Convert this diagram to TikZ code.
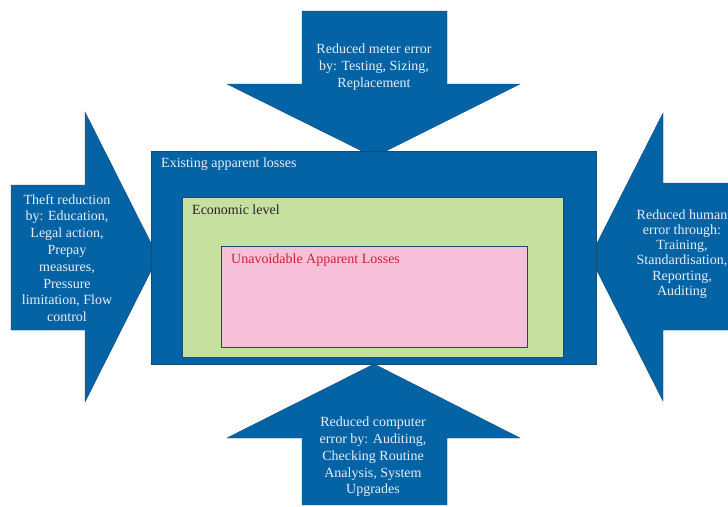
\documentclass[tikz,border=0pt]{standalone}
\usepackage{fontspec}
\setmainfont{Liberation Serif}
\usepackage{tikz}
\usetikzlibrary{calc}
\usetikzlibrary{positioning}

\definecolor{lossblue}{RGB}{4,99,164}
\definecolor{lossedge}{RGB}{20,75,120}
\definecolor{ecogreen}{RGB}{198,224,160}
\definecolor{unavpink}{RGB}{246,192,216}
\definecolor{unavred}{RGB}{215,30,50}
\definecolor{paletext}{RGB}{232,238,246}

\tikzset{
	bigarrow/.style={fill=lossblue, draw=lossedge, line width=0.4pt},
	levelbox/.style={draw=lossedge, line width=0.8pt},
	armtext/.style={text=paletext, align=center, font=\fontsize{14}{16.8}\selectfont, inner sep=0pt},
	boxtext/.style={anchor=west, font=\fontsize{14}{16.8}\selectfont, inner sep=0pt}
}

\begin{document}
\begin{tikzpicture}[x=1pt,y=-1pt]
		\useasboundingbox (0,0) rectangle (728,506);
		% arrows pointing at the boxes
		\filldraw[bigarrow] (302,11) -- (447,11) -- (447,84) -- (520,84) -- (374,157) -- (227,84) -- (302,84) -- cycle;
		\filldraw[bigarrow] (11,185) -- (85,185) -- (85,112) -- (158,257) -- (85,402) -- (85,330) -- (11,330) -- cycle;
		\filldraw[bigarrow] (728,183) -- (663,183) -- (663,113) -- (590,257) -- (663,401) -- (663,330) -- (728,330);
		\filldraw[bigarrow] (302,505) -- (302,438) -- (227,438) -- (374,364) -- (520,438) -- (447,438) -- (447,505);
		% nested levels
		\filldraw[fill=lossblue, draw=lossedge] (151,151) rectangle (596,364);
		\filldraw[levelbox, fill=ecogreen] (182,197) rectangle (563,357);
		\filldraw[levelbox, fill=unavpink] (221,246) rectangle (527,347);
		\node[boxtext, text=paletext] (existing) at (161,164) {Existing apparent losses};
		\node[boxtext, text=black!85] (economic) at (192,210) {Economic level};
		\node[boxtext, text=unavred] (unavoidable) at (231,260) {Unavoidable Apparent Losses};
		% arrow texts
		\node[armtext] (meter) at (374,67) {Reduced meter error\\by: Testing, Sizing,\\Replacement};
		\node[armtext] (theft) at (67,258) {Theft reduction\\by: Education,\\Legal action,\\Prepay\\measures,\\Pressure\\limitation, Flow\\control};
		\node[armtext, font=\fontsize{14}{15.2}\selectfont] (human) at (682,254) {Reduced human\\error through:\\Training,\\Standardisation,\\Reporting,\\Auditing};
		\node[armtext] (computer) at (373,457) {Reduced computer\\error by: Auditing,\\Checking Routine\\Analysis, System\\Upgrades};
	\end{tikzpicture}
\end{document}
